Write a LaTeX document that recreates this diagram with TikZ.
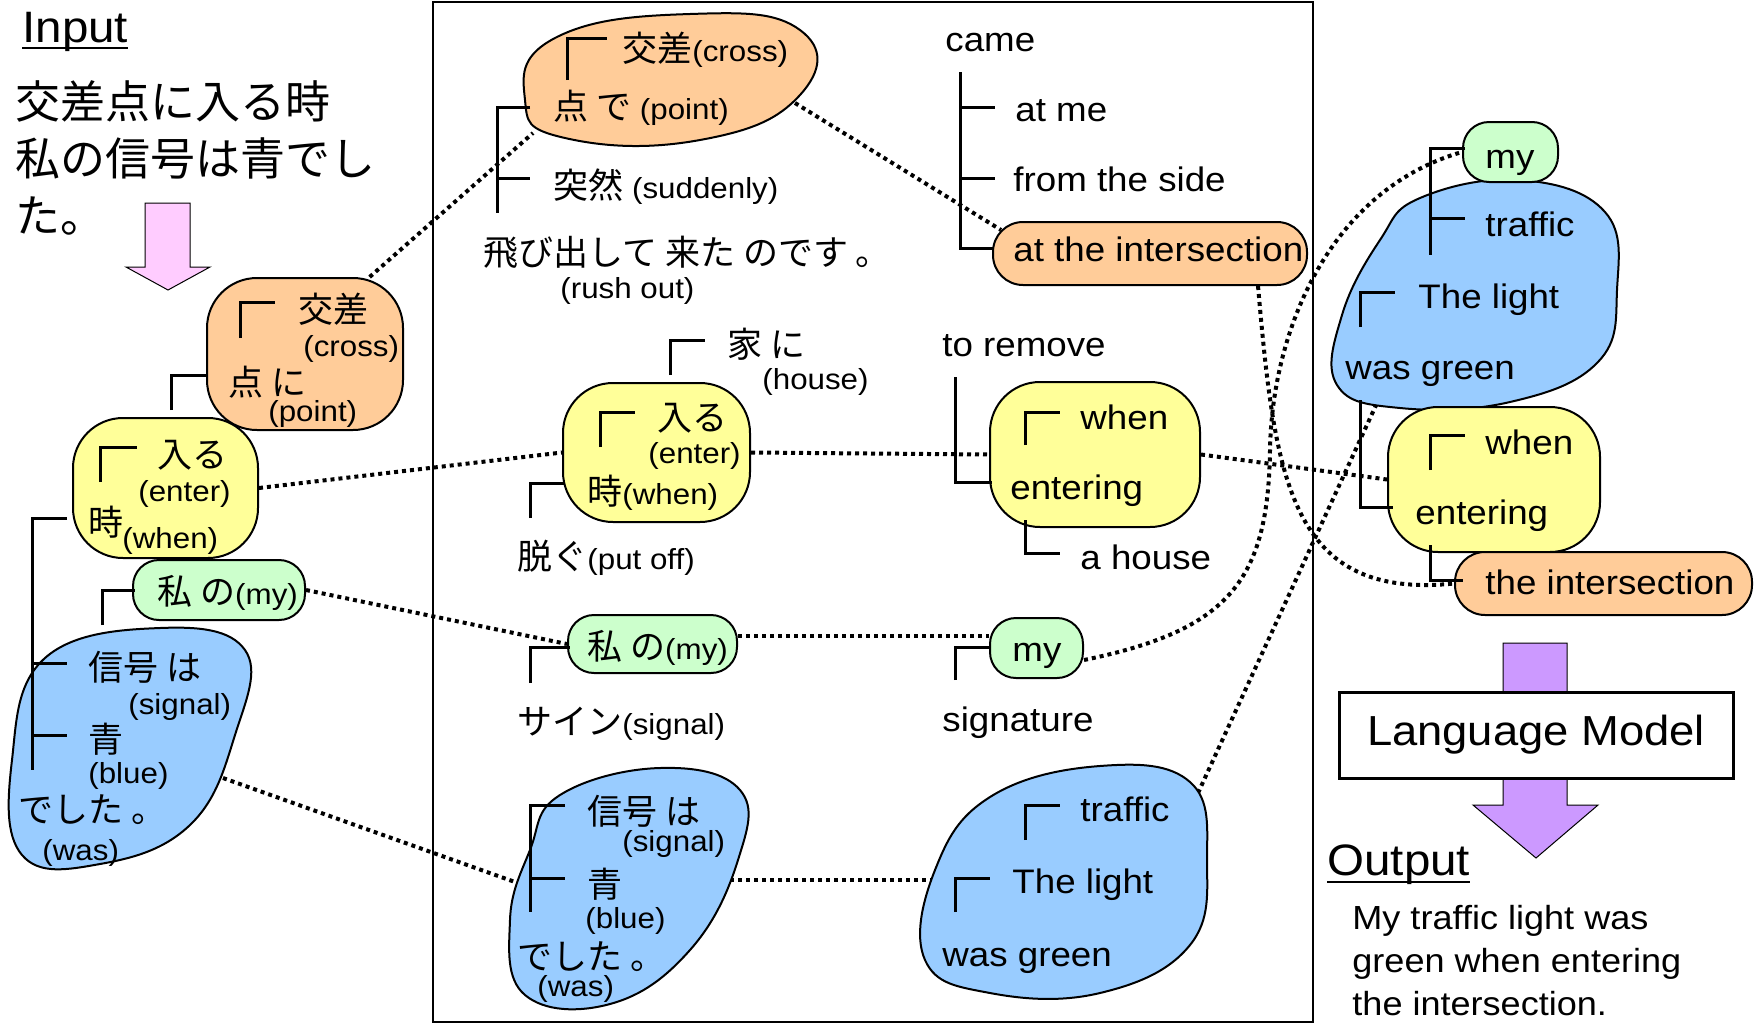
\documentclass[tikz,border=0pt]{standalone}
\usepackage{fontspec}
\setmainfont[FakeStretch=1.08]{Liberation Sans}
\newfontfamily\jpfont{Noto Sans CJK JP}
\pgfdeclarelayer{background}
\pgfsetlayers{background,main}
\definecolor{BlobOrange}{RGB}{255,204,153}
\definecolor{BlobYellow}{RGB}{255,255,153}
\definecolor{BlobGreen}{RGB}{204,255,204}
\definecolor{BlobBlue}{RGB}{153,204,255}
\definecolor{ArrowPink}{RGB}{255,204,255}
\definecolor{ArrowPurple}{RGB}{204,153,255}
\newcommand{\ja}[1]{{\jpfont\fontsize{17.5}{21}\selectfont #1}}
\tikzset{
  lbl/.style={inner sep=0pt, anchor=mid west, yshift=-3pt},
  tbase/.style={inner sep=0pt, anchor=base west},
  jtxt/.style={lbl, yshift=-0.5pt, font=\jpfont\fontsize{17.5}{21}\selectfont},
  ptxt/.style={lbl, font=\fontsize{14.5}{17}\selectfont},
  etxt/.style={lbl, font=\fontsize{17}{20}\selectfont},
  blob/.style={draw, line width=1pt, inner sep=0pt},
  squircle/.style={blob, rectangle, rounded corners=25pt},
  pill/.style={blob, rectangle, rounded corners=13pt},
  stadium/.style={blob, rectangle, rounded corners=15pt, fill=BlobOrange},
  dep/.style={line width=1.5pt},
  link/.style={line width=2pt, dash pattern=on 2pt off 2pt},
}

\begin{document}
\begin{tikzpicture}[x=0.5pt, y=-0.5pt]
\useasboundingbox (0,0) rectangle (1760,1023);

% Input
\node[tbase, font=\fontsize{22}{26}\selectfont] (input) at (22,42) {Input};
\draw[line width=1pt] ([yshift=-3pt]input.base west) -- ([yshift=-3pt]input.base east);
\node[jtxt, font=\jpfont\fontsize{22.5}{27}\selectfont] (in1) at (15,106) {交差点に入る時};
\node[jtxt, font=\jpfont\fontsize{22.5}{27}\selectfont] (in2) at (15,163) {私の信号は青でし};
\node[jtxt, font=\jpfont\fontsize{22.5}{27}\selectfont] (in3) at (15,220) {た。};
\draw[fill=ArrowPink, line width=0.5pt] (145,203) -- (190,203) -- (190,267) -- (210,267)
  -- (168,290) -- (126,267) -- (145,267) -- cycle;

% middle frame
\draw[line width=1.3pt] (433,2) rectangle (1313,1022);

% blobs: blue
\draw[blob, fill=BlobBlue] plot[smooth cycle, tension=0.7] coordinates {(45,658) (160,628) (245,650) (235,735) (190,825) (100,864) (22,855) (12,760)};
\draw[blob, fill=BlobBlue] plot[smooth cycle, tension=0.7] coordinates {(560,795) (660,768) (740,790) (738,860) (690,950) (610,1004) (525,995) (510,920) (530,850)};
\draw[blob, fill=BlobBlue] plot[smooth cycle, tension=0.7] coordinates {(990,797) (1100,766) (1190,782) (1207,860) (1190,945) (1100,993) (990,993) (925,960) (935,870)};
\draw[blob, fill=BlobBlue] plot[smooth cycle, tension=0.7] coordinates {(1420,198) (1520,180) (1605,212) (1617,290) (1598,362) (1510,402) (1400,408) (1337,385) (1342,315) (1380,240)};
\draw[blob, fill=BlobOrange] plot[smooth cycle, tension=0.8] coordinates {(525,100) (555,38) (690,14) (800,30) (800,95) (700,140) (565,138)};
\coordinate (mora-sw) at (533,133);
\coordinate (mora-e) at (795,103);
\coordinate (lblu-e) at (223,778);
\coordinate (mblu-w) at (515,882);
\coordinate (mblu-e) at (730,880);
\coordinate (rblu1-w) at (940,880);
\coordinate (rblu1-ne) at (1198,793);
\coordinate (rblu2-s) at (1377,403);

% blobs: yellow, green, orange
\node[squircle, fill=BlobOrange, minimum width=98pt, minimum height=76pt] (lora) at (305,354) {};
\node[squircle, fill=BlobYellow, minimum width=92.5pt, minimum height=70pt] (lyel) at (165.5,488) {};
\node[pill, fill=BlobGreen, minimum width=86pt, minimum height=30pt] (lgrn) at (219,590) {};
\node[squircle, fill=BlobYellow, minimum width=93.5pt, minimum height=69.5pt] (myel) at (656.5,452.5) {};
\node[pill, fill=BlobGreen, minimum width=84.5pt, minimum height=29pt] (mgrn) at (652.5,644) {};
\node[squircle, fill=BlobYellow, minimum width=105pt, minimum height=72.5pt] (ryel1) at (1095,454.5) {};
\node[pill, fill=BlobGreen, minimum width=46.5pt, minimum height=30pt] (rgrn1) at (1036.5,648) {};
\node[stadium, minimum width=157pt, minimum height=31.5pt] (rora1) at (1150,253.5) {};
\node[squircle, fill=BlobYellow, minimum width=106pt, minimum height=72.5pt] (ryel2) at (1494,479.5) {};
\node[pill, fill=BlobGreen, minimum width=47.5pt, minimum height=30pt] (rgrn2) at (1510.5,152) {};
\node[stadium, minimum width=148.5pt, minimum height=31.5pt] (rora2) at (1603.5,583.5) {};

% dotted links
\begin{pgfonlayer}{background}
\draw[link] (lora.50) -- (mora-sw);
\draw[link] (mora-e) -- ([xshift=4.5pt,yshift=-4.5pt]rora1.north west);
\draw[link] ([xshift=-25pt]rora1.south east) .. controls (1275,480) and (1290,600) .. (rora2.west);
\draw[link] (lyel.east) -- (myel.west);
\draw[link] (myel.east) -- (ryel1.west);
\draw[link] (ryel1.east) -- (ryel2.west);
\draw[link] (lgrn.east) -- (mgrn.west);
\draw[link] ([yshift=4pt]mgrn.east) -- ([yshift=6pt]rgrn1.west);
\draw[link] ([yshift=-6pt]rgrn1.east) .. controls (1230,630) and (1268,580) .. (1270,450)
  .. controls (1272,330) and (1330,190) .. (rgrn2.west);
\draw[link] (lblu-e) -- (mblu-w);
\draw[link] (mblu-e) -- (rblu1-w);
\draw[link] (rblu1-ne) -- (rblu2-s);
\end{pgfonlayer}

% left trees
\draw[dep] (240,338) -- (240,302) -- (275,302);
\draw[dep] (171,410) -- (171,375) -- (207,375);
\draw[dep] (100,482) -- (100,447) -- (137,447);
\draw[dep] (67,518) -- (32,518) -- (32,770);
\draw[dep] (32,663) -- (67,663);
\draw[dep] (32,735) -- (67,735);
\draw[dep] (102,625) -- (102,590) -- (135,590);
\node[jtxt] (lo1) at (298,310) {交差};
\node[ptxt] (lo2) at (303,345) {(cross)};
\node[jtxt] (lo3) at (228,383) {点 に};
\node[ptxt] (lo4) at (268,410) {(point)};
\node[jtxt] (ly1) at (157,455) {入る};
\node[ptxt] (ly2) at (138,490) {(enter)};
\node[jtxt] (ly3) at (88,523) {時};
\node[ptxt] (ly4) at (122,537) {(when)};
\node[ptxt] (lg1) at (157,593) {\ja{私 の}(my)};
\node[jtxt] (lb1) at (88,668) {信号 は};
\node[ptxt] (lb2) at (128,703) {(signal)};
\node[jtxt] (lb3) at (88,740) {青};
\node[ptxt] (lb4) at (88,772) {(blue)};
\node[jtxt] (lb5) at (18,810) {でした 。};
\node[ptxt] (lb6) at (42,849) {(was)};

% middle trees
\draw[dep] (567,80) -- (567,38) -- (607,38);
\draw[dep] (530,107) -- (497,107) -- (497,213);
\draw[dep] (497,178) -- (530,178);
\draw[dep] (670,375) -- (670,340) -- (705,340);
\draw[dep] (600,447) -- (600,412) -- (635,412);
\draw[dep] (530,518) -- (530,483) -- (565,483);
\draw[dep] (530,683) -- (530,647) -- (570,647);
\draw[dep] (565,805) -- (530,805) -- (530,912);
\draw[dep] (530,878) -- (565,878);
\node[ptxt] (mo1) at (622,50) {\ja{交差}(cross)};
\node[ptxt] (mo2) at (553,108) {\ja{点 で} (point)};
\node[ptxt] (ms) at (553,187) {\ja{突然} (suddenly)};
\node[jtxt] (mv) at (483,253) {飛び出して 来た のです 。};
\node[ptxt] (mv2) at (560,287) {(rush out)};
\node[jtxt] (mh1) at (727,345) {家 に};
\node[ptxt] (mh2) at (762,378) {(house)};
\node[jtxt] (my1) at (657,418) {入る};
\node[ptxt] (my2) at (648,452) {(enter)};
\node[ptxt] (my3) at (587,493) {\ja{時}(when)};
\node[ptxt] (mp) at (517,558) {\ja{脱ぐ}(put off)};
\node[ptxt] (mg1) at (587,648) {\ja{私 の}(my)};
\node[ptxt] (msg) at (517,723) {\ja{サイン}(signal)};
\node[jtxt] (mb1) at (587,812) {信号 は};
\node[ptxt] (mb2) at (622,840) {(signal)};
\node[jtxt] (mb3) at (587,885) {青};
\node[ptxt] (mb4) at (585,917) {(blue)};
\node[jtxt] (mb5) at (517,957) {でした 。};
\node[ptxt] (mb6) at (537,985) {(was)};

% right trees in frame
\draw[dep] (960,72) -- (960,248) -- (993,248);
\draw[dep] (960,107) -- (995,107);
\draw[dep] (960,178) -- (995,178);
\draw[dep] (955,377) -- (955,482) -- (992,482);
\draw[dep] (1025,445) -- (1025,412) -- (1060,412);
\draw[dep] (1025,520) -- (1025,553) -- (1060,553);
\draw[dep] (955,680) -- (955,647) -- (990,647);
\draw[dep] (1025,840) -- (1025,805) -- (1060,805);
\draw[dep] (955,912) -- (955,878) -- (990,878);
\node[etxt] (came) at (945,40) {came};
\node[etxt] (atme) at (1015,110) {at me};
\node[etxt] (side) at (1013,180) {from the side};
\node[etxt] (atint) at (1013,250) {at the intersection};
\node[etxt] (remove) at (942,345) {to remove};
\node[etxt] (when1) at (1080,418) {when};
\node[etxt] (enter1) at (1010,488) {entering};
\node[etxt] (house1) at (1080,558) {a house};
\node[etxt] (myr1) at (1012,650) {my};
\node[etxt] (sig) at (942,720) {signature};
\node[etxt] (traf1) at (1080,810) {traffic};
\node[etxt] (light1) at (1012,882) {The light};
\node[etxt] (green1) at (942,955) {was green};

% output tree
\draw[dep] (1465,148) -- (1430,148) -- (1430,255);
\draw[dep] (1430,218) -- (1465,218);
\draw[dep] (1360,327) -- (1360,292) -- (1395,292);
\draw[dep] (1360,400) -- (1360,507) -- (1393,507);
\draw[dep] (1430,470) -- (1430,435) -- (1465,435);
\draw[dep] (1430,545) -- (1430,580) -- (1463,580);
\node[etxt] (myr2) at (1485,157) {my};
\node[etxt] (traf2) at (1485,225) {traffic};
\node[etxt] (light2) at (1418,297) {The light};
\node[etxt] (green2) at (1345,368) {was green};
\node[etxt] (when2) at (1485,443) {when};
\node[etxt] (enter2) at (1415,513) {entering};
\node[etxt] (int2) at (1485,583) {the intersection};

% language model
\draw[fill=ArrowPurple, line width=0.5pt] (1503,643) -- (1567,643) -- (1567,805) -- (1598,805)
  -- (1536,858) -- (1473,805) -- (1503,805) -- cycle;
\node[draw, fill=white, line width=1.5pt, minimum width=197pt, minimum height=43pt,
  font=\fontsize{21}{25}\selectfont] (lm) at (1536,735) {Language Model};

% Output
\node[tbase, font=\fontsize{22}{26}\selectfont] (output) at (1327,875) {Output};
\draw[line width=1pt] ([yshift=-3.5pt]output.base west) -- ([yshift=-3.5pt]output.base east);
\node[tbase, font=\fontsize{16.7}{20}\selectfont] (out1) at (1352,929) {My traffic light was};
\node[tbase, font=\fontsize{16.7}{20}\selectfont] (out2) at (1352,972) {green when entering};
\node[tbase, font=\fontsize{16.7}{20}\selectfont] (out3) at (1352,1015) {the intersection.};
\end{tikzpicture}
\end{document}
